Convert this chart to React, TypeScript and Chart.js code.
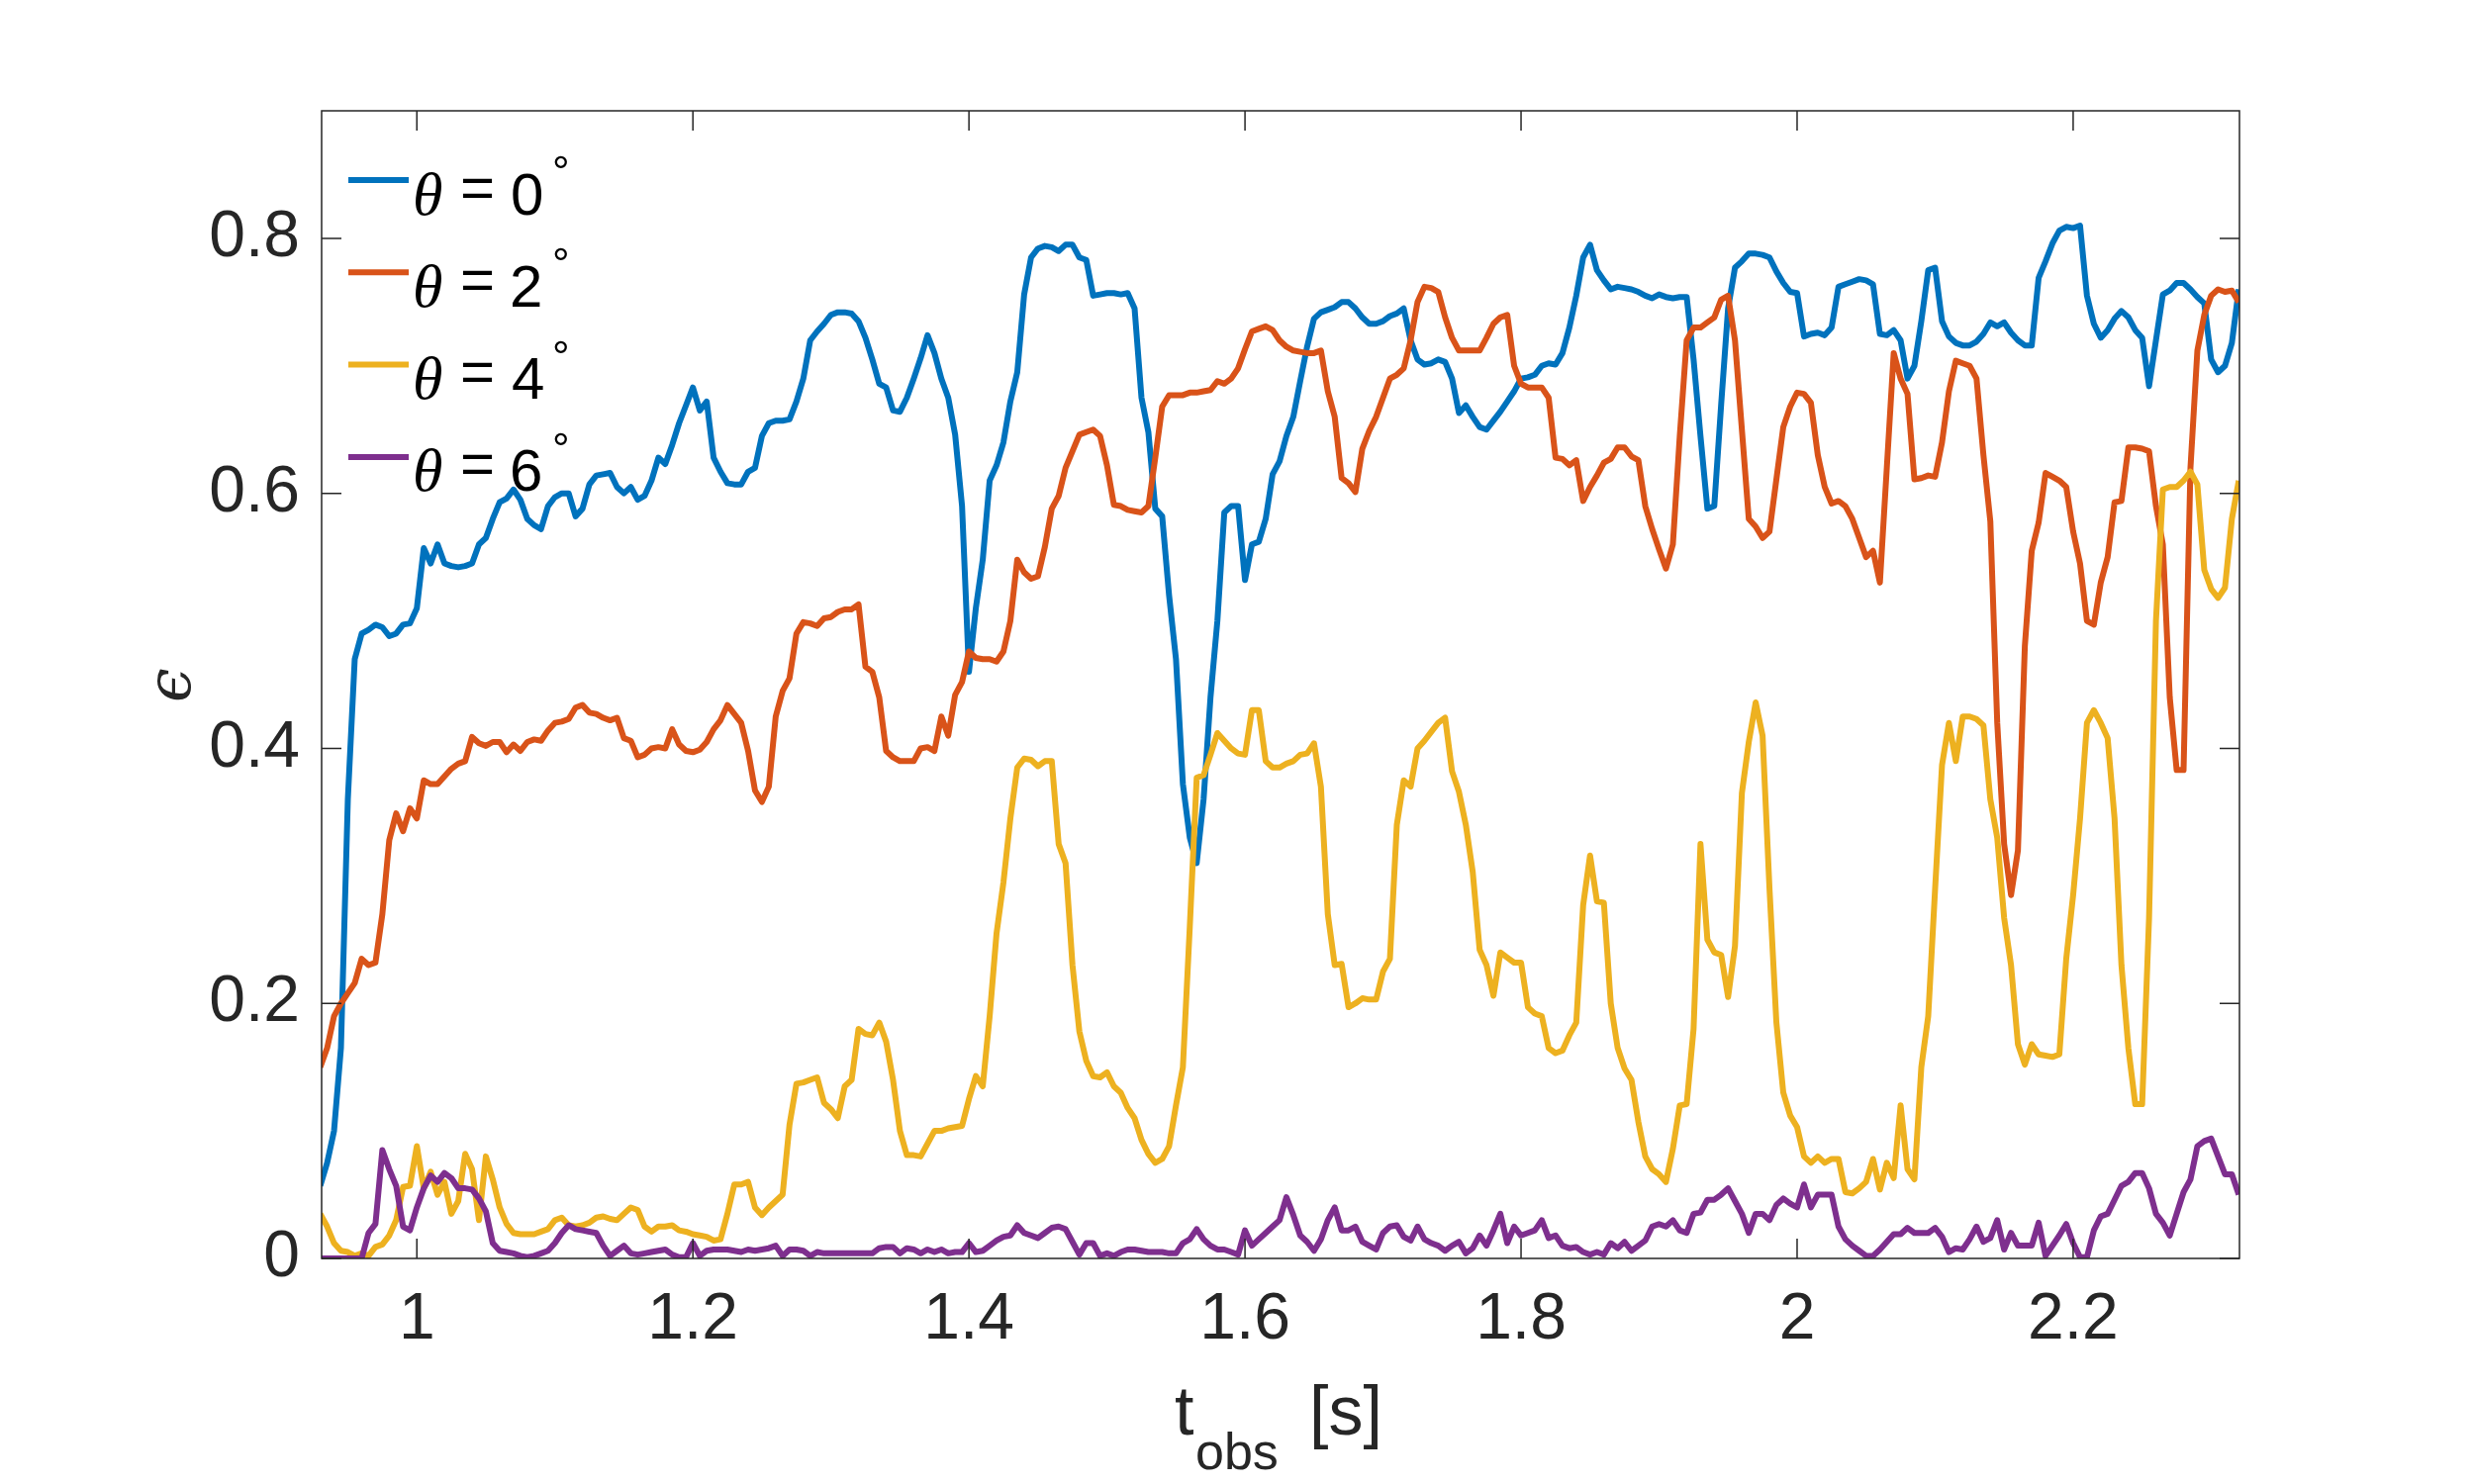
import React, { useEffect, useRef } from "react";
import { Chart, registerables } from "chart.js";

Chart.register(...registerables);

// ---- sampling grid (observation time, s) ----
const T_START = 0.93;
const T_STEP = 0.005;

// ---- axes ----
const X_MIN = 0.931;
const X_MAX = 2.3205;
const Y_MIN = 0;
const Y_MAX = 0.9;
const X_TICKS = [1, 1.2, 1.4, 1.6, 1.8, 2, 2.2];
const X_TICK_LABELS = ["1", "1.2", "1.4", "1.6", "1.8", "2", "2.2"];
const Y_TICKS = [0, 0.2, 0.4, 0.6, 0.8];
const Y_TICK_LABELS = ["0", "0.2", "0.4", "0.6", "0.8"];

// ---- text ----
const X_TITLE_MAIN = "t";
const X_TITLE_SUB = "obs";
const X_TITLE_UNIT = "[s]";
const Y_TITLE = "\u03F5";
const LEGEND_SYMBOL = "\u03B8";
const LEGEND_EQ = "=";
const LEGEND_DEG = "\u00B0";
const THETA_VALUES = ["0", "2", "4", "6"];
const COLORS = ["#0072BD", "#D95319", "#EDB120", "#7E2F8E"];

// ---- series values (epsilon), one per grid time ----
const EPS_THETA0 = [
  0.057, 0.075, 0.10, 0.165, 0.36, 0.47, 0.49, 0.493, 0.497, 0.495, 0.488, 0.49, 0.497, 0.498, 0.51, 0.557, 0.545, 0.56, 0.545, 0.543,
  0.542, 0.543, 0.545, 0.56, 0.565, 0.58, 0.593, 0.596, 0.603, 0.595, 0.58, 0.575, 0.572, 0.59, 0.597, 0.6, 0.6, 0.582, 0.588, 0.607,
  0.614, 0.615, 0.616, 0.605, 0.6, 0.605, 0.595, 0.598, 0.61, 0.628, 0.623, 0.638, 0.655, 0.669, 0.683, 0.665, 0.672, 0.628, 0.617, 0.608,
  0.607, 0.607, 0.617, 0.62, 0.645, 0.655, 0.657, 0.657, 0.658, 0.672, 0.69, 0.72, 0.727, 0.733, 0.74, 0.742, 0.742, 0.741, 0.735, 0.722,
  0.705, 0.686, 0.683, 0.665, 0.664, 0.675, 0.69, 0.706, 0.724, 0.71, 0.69, 0.675, 0.646, 0.59, 0.46, 0.51, 0.548, 0.61, 0.622, 0.64,
  0.672, 0.695, 0.756, 0.785, 0.792, 0.794, 0.793, 0.79, 0.795, 0.795, 0.785, 0.783, 0.755, 0.756, 0.757, 0.757, 0.756, 0.757, 0.745, 0.675,
  0.648, 0.588, 0.582, 0.52, 0.47, 0.372, 0.33, 0.31, 0.36, 0.44, 0.5, 0.585, 0.59, 0.59, 0.532, 0.56, 0.562, 0.58, 0.615, 0.625,
  0.645, 0.66, 0.688, 0.715, 0.737, 0.742, 0.744, 0.746, 0.75, 0.75, 0.745, 0.738, 0.733, 0.733, 0.735, 0.739, 0.741, 0.745, 0.72, 0.705,
  0.701, 0.702, 0.705, 0.703, 0.69, 0.663, 0.669, 0.66, 0.652, 0.65, 0.657, 0.664, 0.672, 0.68, 0.69, 0.691, 0.693, 0.7, 0.702, 0.701,
  0.71, 0.73, 0.755, 0.785, 0.795, 0.775, 0.767, 0.76, 0.762, 0.761, 0.76, 0.758, 0.755, 0.753, 0.756, 0.754, 0.753, 0.754, 0.754, 0.705,
  0.645, 0.588, 0.59, 0.67, 0.745, 0.777, 0.782, 0.788, 0.788, 0.787, 0.785, 0.774, 0.765, 0.758, 0.757, 0.723, 0.725, 0.726, 0.724, 0.73,
  0.762, 0.764, 0.766, 0.768, 0.767, 0.764, 0.725, 0.724, 0.728, 0.72, 0.69, 0.7, 0.735, 0.775, 0.777, 0.735, 0.723, 0.718, 0.716, 0.716,
  0.719, 0.725, 0.734, 0.731, 0.734, 0.726, 0.72, 0.716, 0.716, 0.769, 0.782, 0.796, 0.806, 0.809, 0.808, 0.81, 0.755, 0.733, 0.722, 0.728,
  0.737, 0.743, 0.738, 0.728, 0.722, 0.684, 0.72, 0.756, 0.759, 0.765, 0.765, 0.76, 0.754, 0.749, 0.705, 0.695, 0.7, 0.718, 0.76,
];

const EPS_THETA2 = [
  0.15, 0.165, 0.19, 0.2, 0.208, 0.216, 0.235, 0.23, 0.232, 0.27, 0.328, 0.349, 0.335, 0.353, 0.345, 0.375, 0.372, 0.372, 0.378, 0.384,
  0.388, 0.39, 0.409, 0.404, 0.402, 0.405, 0.405, 0.397, 0.403, 0.398, 0.405, 0.407, 0.406, 0.414, 0.42, 0.421, 0.423, 0.432, 0.434, 0.428,
  0.427, 0.424, 0.422, 0.424, 0.408, 0.406, 0.393, 0.395, 0.4, 0.401, 0.4, 0.415, 0.403, 0.398, 0.397, 0.399, 0.405, 0.415, 0.422, 0.434,
  0.427, 0.42, 0.398, 0.367, 0.358, 0.37, 0.425, 0.445, 0.455, 0.49, 0.499, 0.498, 0.496, 0.502, 0.503, 0.507, 0.509, 0.509, 0.513, 0.464,
  0.46, 0.44, 0.398, 0.393, 0.39, 0.39, 0.39, 0.4, 0.401, 0.398, 0.425, 0.41, 0.442, 0.452, 0.476, 0.471, 0.47, 0.47, 0.468, 0.476,
  0.5, 0.548, 0.538, 0.533, 0.535, 0.558, 0.588, 0.598, 0.62, 0.633, 0.646, 0.648, 0.65, 0.645, 0.622, 0.591, 0.59, 0.587, 0.586, 0.585,
  0.59, 0.628, 0.668, 0.677, 0.677, 0.677, 0.679, 0.679, 0.68, 0.681, 0.688, 0.686, 0.69, 0.698, 0.713, 0.727, 0.729, 0.731, 0.728, 0.72,
  0.715, 0.712, 0.711, 0.71, 0.71, 0.712, 0.68, 0.66, 0.612, 0.608, 0.601, 0.635, 0.649, 0.66, 0.675, 0.69, 0.693, 0.698, 0.72, 0.75,
  0.762, 0.761, 0.758, 0.738, 0.722, 0.712, 0.712, 0.712, 0.712, 0.722, 0.733, 0.738, 0.74, 0.7, 0.686, 0.683, 0.683, 0.683, 0.675, 0.628,
  0.627, 0.622, 0.626, 0.594, 0.605, 0.614, 0.624, 0.627, 0.636, 0.636, 0.629, 0.626, 0.59, 0.572, 0.556, 0.541, 0.56, 0.645, 0.72, 0.73,
  0.73, 0.734, 0.738, 0.752, 0.755, 0.72, 0.65, 0.58, 0.574, 0.565, 0.57, 0.611, 0.652, 0.668, 0.679, 0.678, 0.671, 0.63, 0.605, 0.592,
  0.594, 0.59, 0.58, 0.565, 0.55, 0.555, 0.53, 0.62, 0.71, 0.69, 0.678, 0.611, 0.612, 0.614, 0.613, 0.64, 0.68, 0.704, 0.702, 0.7,
  0.69, 0.63, 0.578, 0.42, 0.325, 0.285, 0.32, 0.48, 0.555, 0.577, 0.616, 0.613, 0.61, 0.605, 0.57, 0.545, 0.5, 0.497, 0.53, 0.55,
  0.593, 0.594, 0.636, 0.636, 0.635, 0.633, 0.59, 0.56, 0.44, 0.383, 0.383, 0.62, 0.712, 0.74, 0.755, 0.76, 0.758, 0.759, 0.75,
];

const EPS_THETA4 = [
  0.035, 0.025, 0.012, 0.006, 0.005, 0.002, 0.004, 0.002, 0.009, 0.011, 0.018, 0.03, 0.056, 0.057, 0.088, 0.055, 0.068, 0.05, 0.06, 0.035,
  0.045, 0.082, 0.07, 0.03, 0.08, 0.062, 0.04, 0.027, 0.02, 0.019, 0.019, 0.019, 0.021, 0.023, 0.03, 0.032, 0.026, 0.025, 0.026, 0.028,
  0.032, 0.033, 0.031, 0.03, 0.035, 0.04, 0.038, 0.025, 0.021, 0.025, 0.025, 0.026, 0.022, 0.021, 0.019, 0.018, 0.017, 0.014, 0.015, 0.035,
  0.058, 0.058, 0.06, 0.04, 0.034, 0.04, 0.045, 0.05, 0.105, 0.137, 0.138, 0.14, 0.142, 0.122, 0.117, 0.11, 0.135, 0.14, 0.18, 0.176,
  0.175, 0.185, 0.17, 0.14, 0.1, 0.081, 0.081, 0.08, 0.09, 0.1, 0.1, 0.102, 0.103, 0.104, 0.125, 0.143, 0.135, 0.19, 0.255, 0.295,
  0.345, 0.385, 0.392, 0.391, 0.386, 0.39, 0.39, 0.325, 0.31, 0.23, 0.178, 0.155, 0.143, 0.142, 0.146, 0.135, 0.13, 0.118, 0.11, 0.093,
  0.082, 0.075, 0.078, 0.088, 0.12, 0.15, 0.26, 0.377, 0.379, 0.395, 0.412, 0.406, 0.4, 0.396, 0.395, 0.43, 0.43, 0.39, 0.385, 0.385,
  0.388, 0.39, 0.395, 0.396, 0.404, 0.37, 0.27, 0.23, 0.231, 0.197, 0.2, 0.204, 0.203, 0.203, 0.225, 0.235, 0.34, 0.375, 0.37, 0.4,
  0.406, 0.413, 0.42, 0.424, 0.382, 0.366, 0.34, 0.303, 0.242, 0.23, 0.206, 0.24, 0.236, 0.232, 0.232, 0.197, 0.192, 0.19, 0.165, 0.161,
  0.163, 0.175, 0.185, 0.277, 0.316, 0.28, 0.279, 0.2, 0.165, 0.149, 0.14, 0.107, 0.08, 0.07, 0.066, 0.06, 0.086, 0.12, 0.121, 0.18,
  0.325, 0.25, 0.24, 0.238, 0.205, 0.245, 0.365, 0.405, 0.436, 0.41, 0.29, 0.185, 0.13, 0.112, 0.103, 0.08, 0.075, 0.08, 0.075, 0.078,
  0.078, 0.052, 0.051, 0.055, 0.06, 0.078, 0.054, 0.075, 0.063, 0.12, 0.07, 0.062, 0.15, 0.19, 0.29, 0.387, 0.42, 0.39, 0.425, 0.425,
  0.423, 0.418, 0.36, 0.33, 0.267, 0.23, 0.168, 0.152, 0.168, 0.16, 0.159, 0.158, 0.16, 0.235, 0.285, 0.345, 0.42, 0.43, 0.42, 0.408,
  0.345, 0.23, 0.165, 0.121, 0.121, 0.267, 0.5, 0.603, 0.605, 0.605, 0.61, 0.617, 0.607, 0.54, 0.525, 0.518, 0.526, 0.58, 0.61,
];

const EPS_THETA6 = [
  0, 0, 0, 0, 0, 0, 0, 0.02, 0.027, 0.085, 0.07, 0.057, 0.025, 0.022, 0.04, 0.055, 0.065, 0.06, 0.067, 0.063,
  0.055, 0.055, 0.054, 0.047, 0.037, 0.012, 0.006, 0.005, 0.004, 0.002, 0.001, 0.002, 0.004, 0.006, 0.012, 0.02, 0.026, 0.023, 0.022, 0.021,
  0.02, 0.01, 0.002, 0.006, 0.01, 0.004, 0.003, 0.004, 0.005, 0.006, 0.007, 0.003, 0.001, 0.001, 0.012, 0.002, 0.006, 0.007, 0.007, 0.007,
  0.006, 0.005, 0.007, 0.006, 0.007, 0.008, 0.01, 0.002, 0.007, 0.007, 0.006, 0.002, 0.005, 0.004, 0.004, 0.004, 0.004, 0.004, 0.004, 0.004,
  0.004, 0.008, 0.009, 0.009, 0.004, 0.008, 0.007, 0.004, 0.007, 0.005, 0.007, 0.004, 0.005, 0.005, 0.012, 0.005, 0.006, 0.01, 0.014, 0.017,
  0.018, 0.026, 0.02, 0.018, 0.016, 0.02, 0.024, 0.025, 0.023, 0.013, 0.003, 0.012, 0.012, 0.002, 0.004, 0.002, 0.005, 0.007, 0.007, 0.006,
  0.005, 0.005, 0.005, 0.004, 0.004, 0.012, 0.015, 0.023, 0.015, 0.01, 0.007, 0.007, 0.005, 0.003, 0.022, 0.01, 0.015, 0.02, 0.025, 0.03,
  0.048, 0.034, 0.018, 0.013, 0.006, 0.015, 0.03, 0.04, 0.022, 0.022, 0.025, 0.013, 0.01, 0.007, 0.02, 0.025, 0.026, 0.017, 0.014, 0.025,
  0.015, 0.012, 0.01, 0.006, 0.01, 0.013, 0.004, 0.008, 0.018, 0.01, 0.022, 0.035, 0.012, 0.025, 0.018, 0.02, 0.022, 0.03, 0.016, 0.018,
  0.01, 0.008, 0.009, 0.005, 0.003, 0.005, 0.003, 0.012, 0.008, 0.013, 0.006, 0.01, 0.014, 0.025, 0.027, 0.025, 0.03, 0.022, 0.02, 0.035,
  0.036, 0.046, 0.046, 0.05, 0.055, 0.045, 0.035, 0.02, 0.035, 0.035, 0.03, 0.042, 0.047, 0.043, 0.04, 0.058, 0.04, 0.05, 0.05, 0.05,
  0.025, 0.015, 0.01, 0.006, 0.002, 0.002, 0.007, 0.013, 0.019, 0.019, 0.024, 0.02, 0.02, 0.02, 0.024, 0.017, 0.005, 0.008, 0.007, 0.015,
  0.025, 0.013, 0.016, 0.03, 0.007, 0.02, 0.01, 0.01, 0.01, 0.028, 0.002, 0.01, 0.018, 0.027, 0.012, 0.001, 0.001, 0.022, 0.033, 0.035,
  0.046, 0.057, 0.06, 0.067, 0.067, 0.055, 0.035, 0.028, 0.018, 0.035, 0.052, 0.062, 0.088, 0.092, 0.094, 0.08, 0.066, 0.066, 0.05,
];

const SERIES_VALUES = [EPS_THETA0, EPS_THETA2, EPS_THETA4, EPS_THETA6];
const TIMES = EPS_THETA0.map((_, i) => +(T_START + i * T_STEP).toFixed(3));

const INK = "#262626";
const SANS = '"Liberation Sans", Arial, Helvetica, sans-serif';
const SERIF = '"Liberation Serif", "Times New Roman", serif';
const LINE_W = 6;

function fillInk(ctx, text, inkLeft, baseline) {
  const m = ctx.measureText(text);
  ctx.fillText(text, inkLeft + m.actualBoundingBoxLeft, baseline);
  return m;
}

const framePlugin = {
  id: "matlabFrame",
  beforeDraw(chart) {
    const ctx = chart.ctx;
    ctx.save();
    ctx.fillStyle = "#ffffff";
    ctx.fillRect(0, 0, chart.width, chart.height);
    ctx.restore();
  },
  afterDraw(chart) {
    const ctx = chart.ctx;
    const { left, right, top, bottom } = chart.chartArea;
    const xs = chart.scales.x;
    const ys = chart.scales.y;
    ctx.save();
    // box
    ctx.strokeStyle = INK;
    ctx.lineWidth = 1.5;
    ctx.strokeRect(left, top, right - left, bottom - top);
    // inward ticks on all four sides
    const TL = 20;
    ctx.beginPath();
    X_TICKS.forEach((v) => {
      const px = xs.getPixelForValue(v);
      ctx.moveTo(px, bottom);
      ctx.lineTo(px, bottom - TL);
      ctx.moveTo(px, top);
      ctx.lineTo(px, top + TL);
    });
    Y_TICKS.forEach((v) => {
      const py = ys.getPixelForValue(v);
      ctx.moveTo(left, py);
      ctx.lineTo(left + TL, py);
      ctx.moveTo(right, py);
      ctx.lineTo(right - TL, py);
    });
    ctx.stroke();

    // legend
    ctx.textAlign = "left";
    ctx.textBaseline = "alphabetic";
    THETA_VALUES.forEach((val, i) => {
      const rowY = top + 70 + i * 93.3;
      ctx.strokeStyle = COLORS[i];
      ctx.lineWidth = LINE_W;
      ctx.beginPath();
      ctx.moveTo(left + 27, rowY);
      ctx.lineTo(left + 88, rowY);
      ctx.stroke();
      ctx.fillStyle = "#000000";
      const base = rowY + 34.5;
      ctx.font = `italic 62px ${SERIF}`;
      fillInk(ctx, LEGEND_SYMBOL, left + 95, base);
      ctx.font = `60px ${SANS}`;
      fillInk(ctx, LEGEND_EQ, left + 142, base - 7);
      fillInk(ctx, val, left + 193, base);
      ctx.font = `44px ${SANS}`;
      const m = ctx.measureText(LEGEND_DEG);
      ctx.fillText(LEGEND_DEG, left + 235 + m.actualBoundingBoxLeft, rowY - 25 + m.actualBoundingBoxAscent);
    });

    // x title: t_obs [s]
    ctx.fillStyle = INK;
    const cx = (left + right) / 2;
    ctx.font = `70px ${SANS}`;
    fillInk(ctx, X_TITLE_MAIN, cx - 106, bottom + 178);
    fillInk(ctx, X_TITLE_UNIT, cx + 33, bottom + 178);
    ctx.font = `52px ${SANS}`;
    fillInk(ctx, X_TITLE_SUB, cx - 84, bottom + 213);

    // y title: epsilon, rotated
    ctx.save();
    ctx.translate(left - 149, (top + bottom) / 2);
    ctx.rotate(-Math.PI / 2);
    ctx.font = `italic 62px "DejaVu Serif", ${SERIF}`;
    const me = ctx.measureText(Y_TITLE);
    const w = me.actualBoundingBoxRight + me.actualBoundingBoxLeft;
    const h = me.actualBoundingBoxAscent + me.actualBoundingBoxDescent;
    ctx.fillText(Y_TITLE, -w / 2 + me.actualBoundingBoxLeft, h / 2 - me.actualBoundingBoxDescent);
    ctx.restore();

    ctx.restore();
  },
};

export default function App() {
  const canvasRef = useRef(null);

  useEffect(() => {
    const canvas = canvasRef.current;
    if (!canvas) return;
    const chart = new Chart(canvas, {
      type: "line",
      data: {
        datasets: SERIES_VALUES.map((vals, i) => ({
          label: `${LEGEND_SYMBOL} = ${THETA_VALUES[i]}${LEGEND_DEG}`,
          data: TIMES.map((t, k) => ({ x: t, y: vals[k] })),
          borderColor: COLORS[i],
          backgroundColor: COLORS[i],
          borderWidth: LINE_W,
          borderJoinStyle: "round",
          pointRadius: 0,
          tension: 0,
          fill: false,
          order: 3 - i,
        })),
      },
      options: {
        animation: false,
        responsive: false,
        devicePixelRatio: 1,
        layout: { padding: { left: 0, top: 112, right: 237, bottom: 0 } },
        plugins: {
          legend: { display: false },
          tooltip: { enabled: false },
          title: { display: false },
        },
        scales: {
          x: {
            type: "linear",
            min: X_MIN,
            max: X_MAX,
            grid: { display: false, drawTicks: false },
            border: { display: false },
            ticks: {
              color: INK,
              font: { family: SANS, size: 66 },
              padding: 23,
              maxRotation: 0,
              autoSkip: false,
              callback: (_v, idx) => X_TICK_LABELS[idx],
            },
            afterBuildTicks: (s) => {
              s.ticks = X_TICKS.map((v) => ({ value: v }));
            },
            afterFit: (s) => {
              s.height = 228;
            },
          },
          y: {
            type: "linear",
            min: Y_MIN,
            max: Y_MAX,
            grid: { display: false, drawTicks: false },
            border: { display: false },
            ticks: {
              color: INK,
              font: { family: SANS, size: 66 },
              padding: 22,
              autoSkip: false,
              callback: (_v, idx) => Y_TICK_LABELS[idx],
            },
            afterBuildTicks: (s) => {
              s.ticks = Y_TICKS.map((v) => ({ value: v }));
            },
            afterFit: (s) => {
              s.width = 325;
            },
          },
        },
      },
      plugins: [framePlugin],
    });
    return () => chart.destroy();
  }, []);

  return (
    <div style={{ position: "absolute", left: 0, top: 0, width: 2500, height: 1500, background: "#ffffff" }}>
      <canvas ref={canvasRef} width={2500} height={1500} style={{ display: "block", width: 2500, height: 1500 }} />
    </div>
  );
}
